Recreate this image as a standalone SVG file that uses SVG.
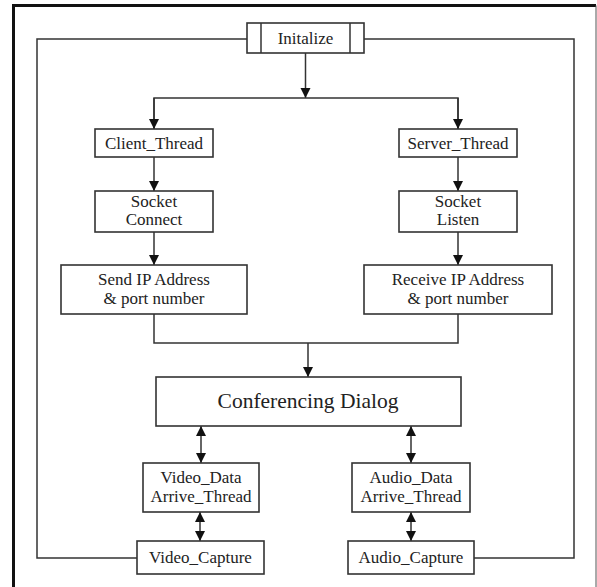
<svg xmlns="http://www.w3.org/2000/svg" width="597" height="587" viewBox="0 0 597 587">
  <defs>
    <marker id="arrow" viewBox="0 0 10 10" refX="10" refY="5" markerWidth="10" markerHeight="12" markerUnits="userSpaceOnUse" orient="auto-start-reverse">
      <path d="M0,0 L10,5 L0,10 Z" fill="#111"/>
    </marker>
  </defs>
  <style>
    .box { fill: #fff; stroke: #333; stroke-width: 1.6; }
    .wire { fill: none; stroke: #333; stroke-width: 1.5; }
    .lbl { font-family: "Liberation Serif", "DejaVu Serif", serif; font-size: 17px; fill: #222; text-anchor: middle; }
    .big { font-size: 21.5px; }
  </style>

  <rect width="597" height="587" fill="#fff"/>
  <!-- frame -->
  <path d="M13.5,590 V5.5 H596" fill="none" stroke="#111" stroke-width="3"/>
  <path d="M596,5.5 V590" fill="none" stroke="#555" stroke-width="1"/>

  <g id="connectors">
    <!-- feedback loop around the flow -->
    <path class="wire" d="M137,558 H37 V39 H247"/>
    <path class="wire" d="M364,39 H574 V558 H474"/>
    <!-- split from init -->
    <path class="wire" d="M305.5,53 V98" marker-end="url(#arrow)"/>
    <path class="wire" d="M154,129 V98 H458 V129"/>
    <path class="wire" d="M154,98 V129" marker-end="url(#arrow)"/>
    <path class="wire" d="M458,98 V129" marker-end="url(#arrow)"/>
    <!-- client chain -->
    <path class="wire" d="M154,157 V191" marker-end="url(#arrow)"/>
    <path class="wire" d="M154,232 V265" marker-end="url(#arrow)"/>
    <!-- server chain -->
    <path class="wire" d="M458,157 V191" marker-end="url(#arrow)"/>
    <path class="wire" d="M458,232 V265" marker-end="url(#arrow)"/>
    <!-- join -->
    <path class="wire" d="M154,314 V343 H458 V314"/>
    <path class="wire" d="M308,343 V377" marker-end="url(#arrow)"/>
    <!-- dialog to threads -->
    <path class="wire" d="M201,426 V463" marker-start="url(#arrow)" marker-end="url(#arrow)"/>
    <path class="wire" d="M411,426 V463" marker-start="url(#arrow)" marker-end="url(#arrow)"/>
    <path class="wire" d="M200,512 V541" marker-start="url(#arrow)" marker-end="url(#arrow)"/>
    <path class="wire" d="M411,512 V541" marker-start="url(#arrow)" marker-end="url(#arrow)"/>
  </g>

  <g id="initalize">
    <rect class="box" x="247" y="23" width="117" height="30"/>
    <line class="wire" x1="261" y1="23" x2="261" y2="53"/>
    <line class="wire" x1="350" y1="23" x2="350" y2="53"/>
    <text class="lbl" x="305.5" y="44">Initalize</text>
  </g>

  <g id="client-thread">
    <rect class="box" x="95" y="129" width="118" height="28"/>
    <text class="lbl" x="154" y="149">Client_Thread</text>
  </g>
  <g id="server-thread">
    <rect class="box" x="399" y="129" width="118" height="28"/>
    <text class="lbl" x="458" y="149">Server_Thread</text>
  </g>

  <g id="socket-connect">
    <rect class="box" x="95" y="191" width="118" height="41"/>
    <text class="lbl" x="154" y="207">Socket</text>
    <text class="lbl" x="154" y="225">Connect</text>
  </g>
  <g id="socket-listen">
    <rect class="box" x="399" y="191" width="118" height="41"/>
    <text class="lbl" x="458" y="207">Socket</text>
    <text class="lbl" x="458" y="225">Listen</text>
  </g>

  <g id="send-ip">
    <rect class="box" x="61" y="265" width="186" height="49"/>
    <text class="lbl" x="154" y="285">Send IP Address</text>
    <text class="lbl" x="154" y="304">&amp; port number</text>
  </g>
  <g id="receive-ip">
    <rect class="box" x="364" y="265" width="188" height="49"/>
    <text class="lbl" x="458" y="285">Receive IP Address</text>
    <text class="lbl" x="458" y="304">&amp; port number</text>
  </g>

  <g id="conferencing-dialog">
    <rect class="box" x="156" y="377" width="305" height="49"/>
    <text class="lbl big" x="308" y="408">Conferencing Dialog</text>
  </g>

  <g id="video-data">
    <rect class="box" x="143" y="463" width="116" height="49"/>
    <text class="lbl" x="201" y="483">Video_Data</text>
    <text class="lbl" x="201" y="502">Arrive_Thread</text>
  </g>
  <g id="audio-data">
    <rect class="box" x="352" y="463" width="118" height="49"/>
    <text class="lbl" x="411" y="483">Audio_Data</text>
    <text class="lbl" x="411" y="502">Arrive_Thread</text>
  </g>

  <g id="video-capture">
    <rect class="box" x="137" y="541" width="127" height="33"/>
    <text class="lbl" x="200.5" y="563">Video_Capture</text>
  </g>
  <g id="audio-capture">
    <rect class="box" x="348" y="541" width="126" height="33"/>
    <text class="lbl" x="411" y="563">Audio_Capture</text>
  </g>
</svg>
